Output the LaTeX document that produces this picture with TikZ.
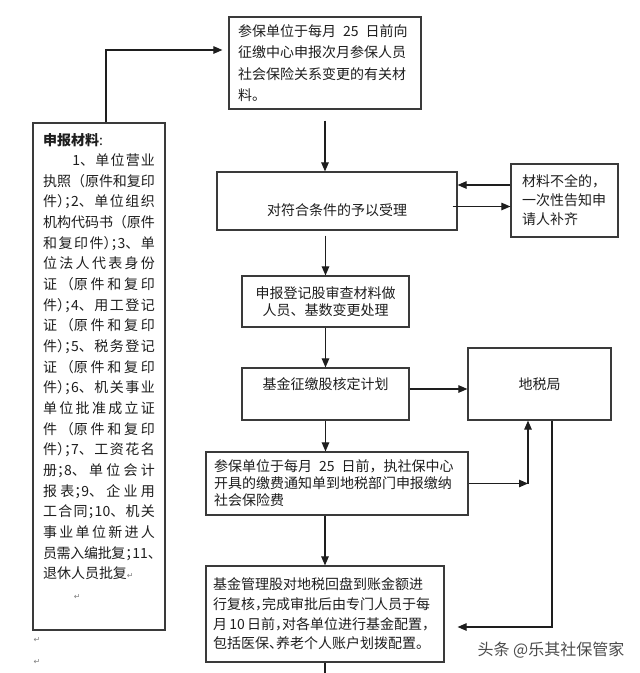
\documentclass[tikz,border=0pt]{standalone}
\usepackage{fontspec}
\setmainfont{Noto Sans CJK SC}
\newfontfamily\retfont{DejaVu Sans}
\usetikzlibrary{arrows.meta}
\definecolor{ink}{HTML}{1E1E1E}
\definecolor{frame}{HTML}{3A3A3A}
\XeTeXlinebreaklocale "zh"
\XeTeXlinebreakskip=0pt plus 3pt minus 1pt
\newcommand\hp[1]{\makebox[.5em][l]{#1}}
\newcommand\ret{{\retfont\color{gray}\fontsize{8}{8}\selectfont ↵}}

\begin{document}
\begin{tikzpicture}[x=1pt,y=-1pt]
      \tikzstyle{box}=[draw=frame,line width=1.2pt,inner ysep=0pt,text=ink,font=\fontsize{14}{19}\selectfont]
      \tikzstyle{arr}=[draw=ink,line width=1.1pt,-{Triangle[length=9pt,width=7.5pt]}]
      \tikzstyle{line}=[draw=ink,line width=1.1pt]
      \useasboundingbox[fill=white] (0,0) rectangle (640,673);
      \node[box,minimum width=192,minimum height=92,text width=174,inner xsep=9,align=left,font=\fontsize{14}{21.5}\selectfont] (tb) at (325,63)
        {参保单位于每月\enspace 25\enspace 日前向\\征缴中心申报次月参保人员\\社会保险关系变更的有关材\\料。};
      \node[box,minimum width=132,minimum height=507,text width=112,inner xsep=10,align=justify,font=\fontsize{14}{20.65}\selectfont] (mat) at (99,376.5)
        {\textbf{申报材料}:\\
        \hspace*{2.1em}1、单位营业\linebreak
        执照（原件和复印\linebreak
        件\hp{）}\hp{；}2、单位组织\linebreak
        机构代码书（原件\linebreak
        和复印件\hp{）}\hp{；}3、单\linebreak
        位法人代表身份\linebreak
        证（原件和复印\linebreak
        件\hp{）}\hp{；}4、用工登记\linebreak
        证（原件和复印\linebreak
        件\hp{）}\hp{；}5、税务登记\linebreak
        证（原件和复印\linebreak
        件\hp{）}\hp{；}6、机关事业\linebreak
        单位批准成立证\linebreak
        件（原件和复印\linebreak
        件\hp{）}\hp{；}7、工资花名\linebreak
        册\hp{；}8、单位会计\linebreak
        报表\hp{；}9、企业用\linebreak
        工合同\hp{；}10、机关\linebreak
        事业单位新进人\linebreak
        员需入编批复\hp{；}11\hp{、}\linebreak
        退休人员批复\ret\\
        \hspace*{2.2em}\ret\\
        \mbox{}};
      \node[box,minimum width=240,minimum height=58,align=center,text height=28.6,text depth=0] (sl) at (337,201) {对符合条件的予以受理};
      \node[box,minimum width=107,minimum height=73,text width=85,inner xsep=11,align=left] (bq) at (564.5,200.5)
        {材料不全的，\\一次性告知申\\请人补齐};
      \node[box,minimum width=167,minimum height=51,align=center,font=\fontsize{14}{17}\selectfont] (dj) at (325.5,301.5)
        {申报登记股审查材料做\\人员、基数变更处理};
      \node[box,minimum width=167,minimum height=52,align=center,text height=11,text depth=19.4] (jh) at (325.5,394) {基金征缴股核定计划};
      \node[box,minimum width=143,minimum height=72,align=center] (ds) at (539.5,384) {地税局};
      \node[box,minimum width=262,minimum height=63,text width=246,inner xsep=8,align=left,font=\fontsize{14}{17}\selectfont] (sb) at (337,483.5)
        {参保单位于每月\enspace 25\enspace 日前，执社保中心\\开具的缴费通知单到地税部门申报缴纳\\社会保险费};
      \node[box,minimum width=238,minimum height=96,text width=224,inner xsep=7,align=left,font=\fontsize{14}{19.7}\selectfont] (pz) at (325,614)
        {基金管理股对地税回盘到账金额进\\行复核\hp{，}完成审批后由专门人员于每\\月\,10\,日前\hp{，}对各单位进行基金配置\hp{，}\\包括医保\hp{、}养老个人账户划拨配置\hp{。}};
      \node[text=black!70,font=\fontsize{16}{16}\selectfont] (wm) at (551,650) {头条 @乐其社保管家};
      \node[inner sep=0pt] (r1) at (37,640) {\ret};
      \node[inner sep=0pt] (r2) at (37,662) {\ret};
      \coordinate (kn) at (528,483.5);
      \coordinate (ed) at (325,673);
      \draw[arr] ([xshift=7pt]mat.north) |- ([xshift=-6pt,yshift=13pt]tb.west);
      \draw[arr,shorten <=11pt] (tb.south) -- (tb.south |- sl.north);
      \draw[arr] ([yshift=15.5pt]bq.west) -- ([yshift=15.5pt]bq.west -| sl.east);
      \draw[arr] ([xshift=-5pt,yshift=-5.5pt]sl.east) -- ([yshift=-5.5pt]sl.east -| bq.west);
      \draw[arr,shorten <=5pt] (dj.north |- sl.south) -- (dj.north);
      \draw[arr] (dj) -- (jh);
      \draw[arr] ([yshift=5pt]jh.east) -- ([yshift=5pt]jh.east -| ds.west);
      \draw[arr] (jh.south) -- (jh.south |- sb.north);
      \draw[arr] (sb.east) -- (kn);
      \draw[arr] (kn) -- (kn |- ds.south);
      \draw[arr] ([xshift=12.5pt]ds.south) |- ([xshift=13pt,yshift=-13pt]pz.east);
      \draw[arr] (sb.south -| pz.north) -- (pz.north);
      \draw[line] (pz.south) -- (ed);
\end{tikzpicture}
\end{document}
